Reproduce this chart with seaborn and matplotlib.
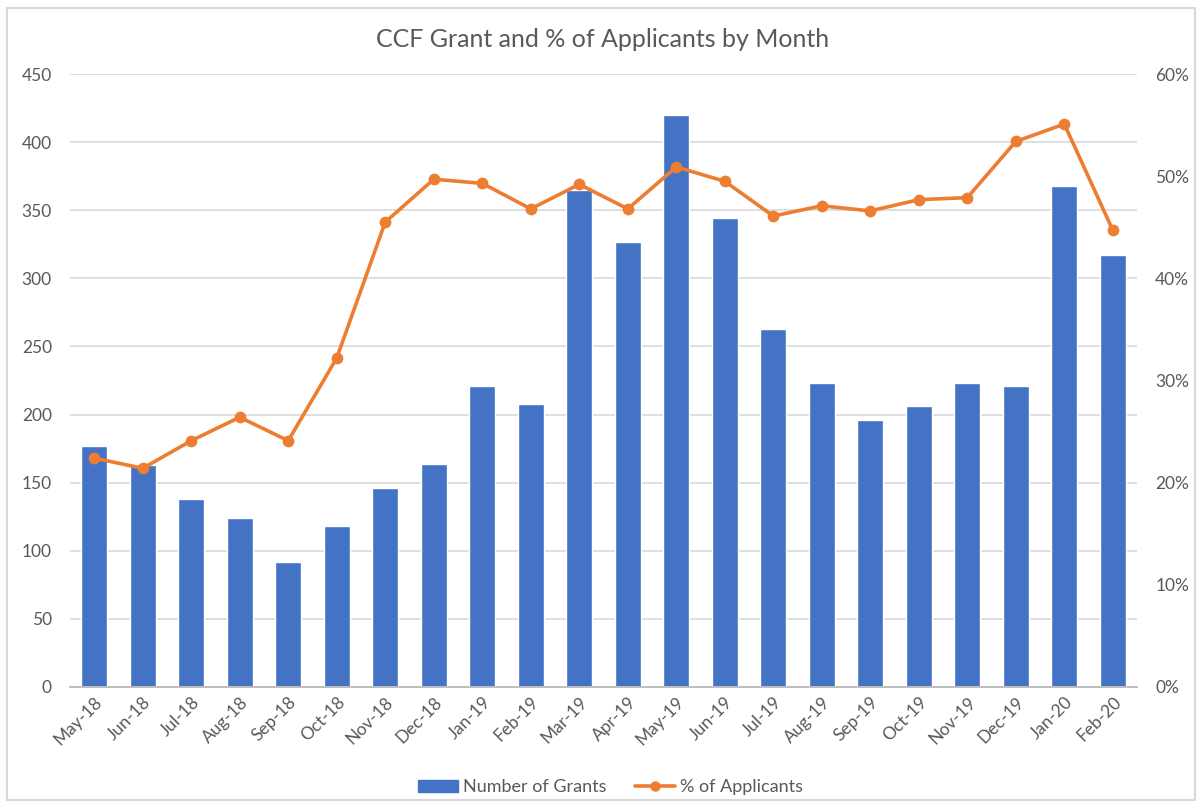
#!/usr/bin/env python3
"""CCF Grant and % of Applicants by Month - bar + line combo chart."""

import pandas as pd
import matplotlib
matplotlib.use('Agg')
import matplotlib.pyplot as plt
from matplotlib.patches import Rectangle, Patch
from matplotlib.lines import Line2D
from matplotlib.ticker import FuncFormatter, FixedLocator
import seaborn as sns

months = ['May-18', 'Jun-18', 'Jul-18', 'Aug-18', 'Sep-18', 'Oct-18', 'Nov-18',
          'Dec-18', 'Jan-19', 'Feb-19', 'Mar-19', 'Apr-19', 'May-19', 'Jun-19',
          'Jul-19', 'Aug-19', 'Sep-19', 'Oct-19', 'Nov-19', 'Dec-19', 'Jan-20', 'Feb-20']
grants = [177, 163, 138, 124, 92, 118, 146, 164, 221, 208, 365, 327,
          420, 344, 263, 223, 196, 206, 223, 221, 368, 317]
pct_applicants = [22.4, 21.4, 24.1, 26.4, 24.1, 32.2, 45.5, 49.7, 49.3, 46.8, 49.2, 46.8,
                  50.9, 49.5, 46.1, 47.1, 46.6, 47.7, 47.9, 53.4, 55.1, 44.7]

BLUE = '#4472C4'
ORANGE = '#ED7D31'
GREY_TXT = '#595959'
GRID = '#D9D9D9'

df = pd.DataFrame({'Month': months, 'Grants': grants, 'Pct': pct_applicants})

sns.set_style('white')
plt.rcParams['font.family'] = ['Lato', 'DejaVu Sans']

fig = plt.figure(figsize=(12.02, 8.10), dpi=100)
ax = fig.add_axes([0.0582, 0.152, 0.8878, 0.7566])

sns.barplot(data=df, x='Month', y='Grants', ax=ax, color=BLUE, width=0.54,
            saturation=1, zorder=2)

ax2 = ax.twinx()
sns.pointplot(data=df, x='Month', y='Pct', ax=ax2, color=ORANGE, markers='o',
              markersize=6.5, linewidth=2.6, errorbar=None)

# left axis
ax.set_ylim(0, 450)
ax.set_yticks(range(0, 451, 50))
ax.yaxis.grid(True, color=GRID, linewidth=1.2, zorder=0)
ax.set_axisbelow(True)
ax.set_xlim(-0.5, len(months) - 0.5)
ax.set_xlabel('')
ax.set_ylabel('')
ax.tick_params(axis='y', length=0, labelsize=12.5, labelcolor=GREY_TXT, pad=13)
ax.tick_params(axis='x', which='major', length=0, labelsize=12.5, labelcolor=GREY_TXT, pad=5)
for lbl in ax.get_xticklabels():
    lbl.set_rotation(45)
    lbl.set_ha('right')
    lbl.set_rotation_mode('anchor')
ax.xaxis.set_minor_locator(FixedLocator([i - 0.5 for i in range(len(months) + 1)]))
ax.tick_params(axis='x', which='minor', length=6, color='#BFBFBF', width=1)

# right axis
ax2.set_ylim(0, 60)
ax2.set_yticks(range(0, 61, 10))
ax2.yaxis.set_major_formatter(FuncFormatter(lambda v, p: f'{int(v)}%'))
ax2.set_ylabel('')
ax2.set_xlabel('')
ax2.tick_params(axis='y', length=0, labelsize=12.5, labelcolor=GREY_TXT, pad=13)
ax2.set_xlim(-0.5, len(months) - 0.5)

for a in (ax, ax2):
    for side in ('top', 'left', 'right'):
        a.spines[side].set_visible(False)
    a.spines['bottom'].set_color('#BFBFBF')
    a.spines['bottom'].set_linewidth(1.2)

fig.text(0.5015, 0.951, 'CCF Grant and % of Applicants by Month', ha='center', va='center',
         fontsize=18, color=GREY_TXT)

handles = [Patch(facecolor=BLUE, edgecolor=BLUE),
           Line2D([0], [0], color=ORANGE, linewidth=2.6, marker='o', markersize=6.5)]
fig.legend(handles, ['Number of Grants', '% of Applicants'], loc='center',
           bbox_to_anchor=(0.508, 0.028), ncol=2, frameon=False, fontsize=13,
           labelcolor=GREY_TXT, handlelength=2.2, handletextpad=0.3, columnspacing=1.6)

# chart area border
fig.patches.append(Rectangle((0.006, 0.012), 0.988, 0.978, transform=fig.transFigure,
                             fill=False, edgecolor='#D9D9D9', linewidth=1.5))

fig.savefig('out.png', dpi=100, facecolor='white')
